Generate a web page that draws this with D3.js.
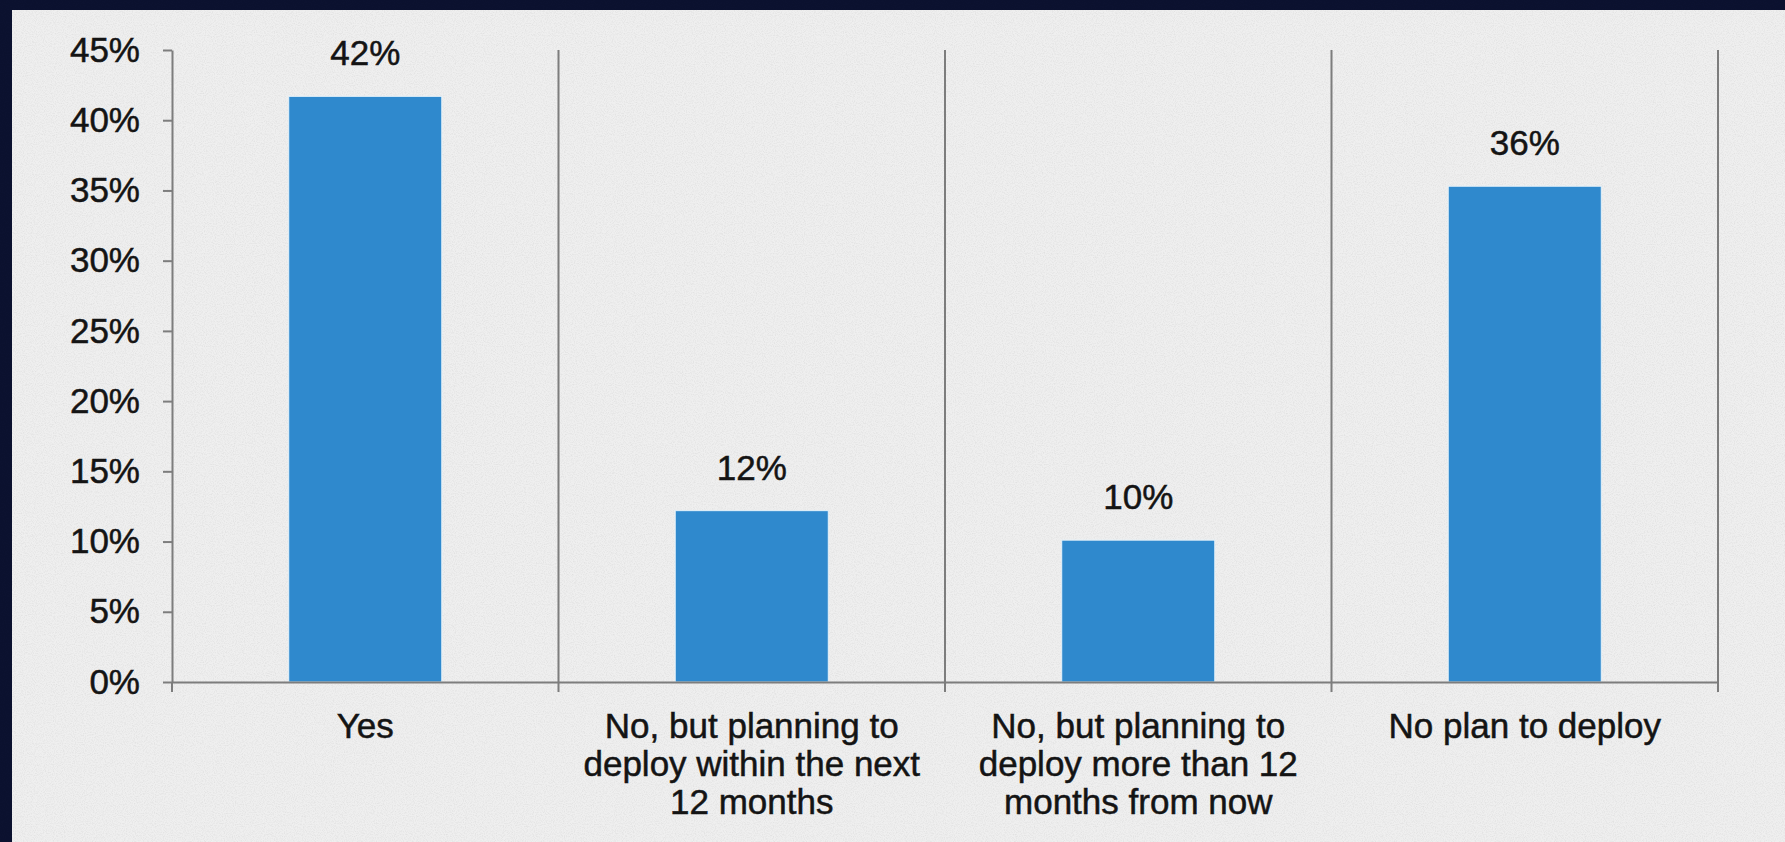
<!DOCTYPE html>
<html>
<head>
<meta charset="utf-8">
<script src="https://cdn.jsdelivr.net/npm/d3@7"></script>
<style>
  body { margin: 0; background: #0c1230; }
  svg { display: block; }
  text { font-family: "Liberation Sans", Arial, sans-serif; fill: #141414; stroke: #141414; stroke-width: 0.5px; }
</style>
</head>
<body>
<div class="svgContainer"></div>
<script>
const CATEGORIES = [
    'Yes',
    'No, but planning to\ndeploy within the next\n12 months',
    'No, but planning to\ndeploy more than 12\nmonths from now',
    'No plan to deploy'
];
const VALUES = [41.7, 12.2, 10.1, 35.3];
const VALUE_LABELS = ['42%', '12%', '10%', '36%'];
const Y_TICKS = [0, 5, 10, 15, 20, 25, 30, 35, 40, 45];

const WIDTH = 1785;
const HEIGHT = 842;
const FRAME_TOP = 10;
const FRAME_LEFT = 12;
const PLOT = { left: 172, right: 1718, top: 50, bottom: 682 };
const BAR_COLOR = '#2f89cd';
const LINE_COLOR = '#7d7d7d';
const FONT_SIZE = 35;

const svg = d3.select('.svgContainer')
.append('svg')
.attr('width', WIDTH)
.attr('height', HEIGHT);

// grainy paper texture like the scanned original
const defs = svg.append('defs');
const grain = defs.append('filter').attr('id', 'grain');
grain.append('feTurbulence')
.attr('type', 'fractalNoise')
.attr('baseFrequency', 0.9)
.attr('numOctaves', 2)
.attr('seed', 3);
grain.append('feColorMatrix')
.attr('type', 'matrix')
.attr('values', '0 0 0 0 0  0 0 0 0 0  0 0 0 0 0  0 0 0 -0.9 0.55');

// dark frame + light page
svg.append('rect')
.attr('width', WIDTH)
.attr('height', HEIGHT)
.attr('fill', '#0c1230');
svg.append('rect')
.attr('x', FRAME_LEFT)
.attr('y', FRAME_TOP)
.attr('width', WIDTH - FRAME_LEFT)
.attr('height', HEIGHT - FRAME_TOP)
.attr('fill', '#efefef');
svg.append('rect')
.attr('x', FRAME_LEFT)
.attr('y', FRAME_TOP)
.attr('width', WIDTH - FRAME_LEFT)
.attr('height', HEIGHT - FRAME_TOP)
.attr('filter', 'url(#grain)')
.attr('opacity', 0.12);

const x = d3.scaleBand()
.domain(CATEGORIES)
.range([PLOT.left, PLOT.right])
.padding(0);

const y = d3.scaleLinear()
.domain([0, 45])
.range([PLOT.bottom, PLOT.top]);

const barWidth = x.bandwidth() * 0.396;

// separators between categories (also the x tick marks)
svg.append('g')
.selectAll('line')
.data(CATEGORIES)
.enter()
.append('line')
.attr('x1', d => x(d) + x.bandwidth())
.attr('x2', d => x(d) + x.bandwidth())
.attr('y1', y(45))
.attr('y2', y(0) + 10)
.attr('stroke', LINE_COLOR)
.attr('stroke-width', 2);

svg.append('line')
.attr('x1', PLOT.left)
.attr('x2', PLOT.left)
.attr('y1', y(0))
.attr('y2', y(0) + 10)
.attr('stroke', LINE_COLOR)
.attr('stroke-width', 2);

// bars
svg.append('g')
.selectAll('rect')
.data(VALUES)
.enter()
.append('rect')
.attr('x', (d, i) => x(CATEGORIES[i]) + (x.bandwidth() - barWidth) / 2)
.attr('y', d => y(d))
.attr('width', barWidth)
.attr('height', d => y(0) - y(d))
.attr('fill', BAR_COLOR)
.attr('stroke', '#e4f2fb')
.attr('stroke-width', 1);

// value labels
svg.append('g')
.selectAll('text')
.data(VALUES)
.enter()
.append('text')
.attr('x', (d, i) => x(CATEGORIES[i]) + x.bandwidth() / 2)
.attr('y', d => y(d) - 31)
.attr('text-anchor', 'middle')
.style('font-size', FONT_SIZE + 'px')
.text((d, i) => VALUE_LABELS[i]);

// y axis
const yAxis = svg.append('g')
.attr('transform', `translate(${PLOT.left},0)`)
.call(d3.axisLeft(y).tickValues(Y_TICKS).tickSize(9).tickSizeOuter(0).tickPadding(23).tickFormat(d => d + '%'));
yAxis.selectAll('path, line').attr('stroke', LINE_COLOR).attr('stroke-width', 2);
yAxis.selectAll('text')
.style('font-size', FONT_SIZE + 'px')
.attr('fill', '#141414')
.attr('font-family', null);

// x axis with wrapped category labels
const xAxis = svg.append('g')
.attr('transform', `translate(0,${PLOT.bottom})`)
.call(d3.axisBottom(x).tickSize(0).tickSizeOuter(0).tickPadding(0));
xAxis.select('.domain').attr('stroke', LINE_COLOR).attr('stroke-width', 2);
xAxis.selectAll('text')
.style('font-size', FONT_SIZE + 'px')
.attr('fill', '#141414')
.attr('font-family', null)
.attr('y', 0)
.attr('dy', null)
.each(function(d) {
    const t = d3.select(this);
    t.text(null);
    d.split('\n').forEach((line, i) => {
        t.append('tspan')
        .attr('x', 0)
        .attr('y', 56 + i * 38)
        .text(line);
    });
});
</script>
</body>
</html>
